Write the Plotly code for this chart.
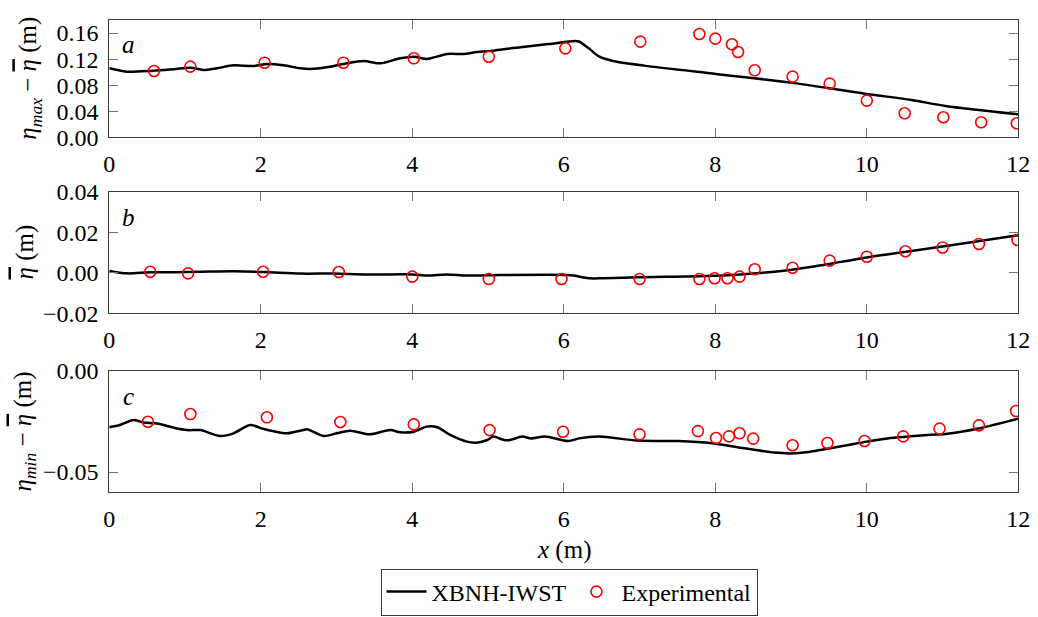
import plotly.graph_objects as go

# ---- XBNH-IWST model profiles ----
# (a) eta_max - eta_bar
x_model_a = [0.0, 0.23, 0.58, 0.85, 1.07, 1.24, 1.42, 1.64, 1.90, 2.08, 2.30, 2.52, 2.65,
             2.87, 3.09, 3.36, 3.58, 3.84, 4.02, 4.19, 4.46, 4.68, 4.85, 5.07, 5.30, 5.43,
             5.80, 6.15, 6.20, 6.33, 6.47, 6.65, 7.06, 8.01, 9.00, 10.0, 10.59, 11.04, 12.0]
y_model_a = [0.1059, 0.1007, 0.1023, 0.1043, 0.1069, 0.1033, 0.1059, 0.1105, 0.1094, 0.1125,
             0.1105, 0.1059, 0.1048, 0.1074, 0.1125, 0.1171, 0.1135, 0.1212, 0.1237, 0.1202,
             0.1278, 0.1278, 0.1309, 0.1330, 0.1365, 0.1381, 0.1430, 0.1478, 0.1470, 0.1365,
             0.1237, 0.1171, 0.1100, 0.0972, 0.0839, 0.0665, 0.0573, 0.0481, 0.0353]

# (b) eta_bar
x_model_b = [0.0, 0.23, 0.54, 1.2, 1.64, 2.04, 2.52, 2.96, 3.4, 4.0, 4.2, 4.46, 4.72, 5.16,
             6.06, 6.13, 6.33, 6.52, 6.97, 7.87, 8.33, 8.78, 9.23, 9.68, 10.14, 10.59, 11.04,
             11.49, 12.0]
y_model_b = [0.0009, -0.0003, 0.0002, 0.0005, 0.0007, 0.0004, -0.0004, -0.0004, -0.0009,
             -0.0008, -0.0014, -0.0008, -0.0014, -0.0011, -0.0011, -0.0014, -0.0027, -0.0027,
             -0.0022, -0.0016, -0.0008, 0.0005, 0.0027, 0.0055, 0.0084, 0.0107, 0.0132,
             0.0157, 0.0185]

# (c) eta_min - eta_bar
x_model_c = [0.0, 0.14, 0.32, 0.45, 0.63, 0.85, 1.02, 1.2, 1.46, 1.64, 1.86, 2.04, 2.17,
             2.34, 2.56, 2.61, 2.83, 3.0, 3.18, 3.44, 3.71, 3.84, 4.02, 4.19, 4.33, 4.5, 4.72,
             4.85, 4.99, 5.07, 5.21, 5.29, 5.45, 5.57, 5.75, 6.06, 6.2, 6.47, 6.97, 7.51,
             7.96, 8.33, 8.78, 9.0, 9.23, 9.68, 10.0, 10.27, 10.81, 11.04, 11.49, 12.0]
y_model_c = [-0.0279, -0.0268, -0.0243, -0.0256, -0.0260, -0.0281, -0.0293, -0.0293, -0.0322,
             -0.0309, -0.0268, -0.0288, -0.0299, -0.0309, -0.0293, -0.0289, -0.0322, -0.0309,
             -0.0296, -0.0314, -0.0293, -0.0304, -0.0301, -0.0276, -0.0279, -0.0317, -0.0350,
             -0.0355, -0.0342, -0.0325, -0.0342, -0.0342, -0.0325, -0.0334, -0.0325, -0.0347,
             -0.0334, -0.0325, -0.0345, -0.0347, -0.0358, -0.0380, -0.0404, -0.0408, -0.0401,
             -0.0372, -0.0350, -0.0334, -0.0317, -0.0312, -0.0284, -0.0237]

# ---- Experimental gauges ----
x_exp_a = [0.59, 1.07, 2.05, 3.09, 4.02, 5.01, 6.02, 7.01, 7.79, 8.0, 8.22, 8.30, 8.52,
           9.02, 9.51, 10.0, 10.50, 11.01, 11.51, 11.98]
y_exp_a = [0.1018, 0.1084, 0.1145, 0.1145, 0.1212, 0.1237, 0.1365, 0.1468, 0.1585, 0.1514,
           0.1427, 0.1309, 0.1028, 0.0931, 0.0823, 0.0563, 0.0368, 0.0307, 0.0230, 0.0215]

x_exp_b = [0.54, 1.04, 2.03, 3.03, 4.0, 5.01, 5.97, 7.0, 7.79, 7.99, 8.16, 8.32, 8.52,
           9.02, 9.51, 10.0, 10.51, 11.0, 11.48, 11.99]
y_exp_b = [0.0005, -0.0003, 0.0005, 0.0004, -0.0019, -0.0031, -0.0031, -0.0031, -0.0031,
           -0.0027, -0.0027, -0.0019, 0.0017, 0.0025, 0.0060, 0.0079, 0.0106, 0.0125,
           0.0142, 0.0162]

x_exp_c = [0.51, 1.07, 2.08, 3.05, 4.02, 5.02, 5.99, 7.0, 7.77, 8.01, 8.18, 8.32, 8.5,
           9.02, 9.48, 9.97, 10.48, 10.96, 11.48, 11.97]
y_exp_c = [-0.0252, -0.0214, -0.0230, -0.0253, -0.0265, -0.0293, -0.0301, -0.0314, -0.0298,
           -0.0332, -0.0324, -0.0309, -0.0335, -0.0368, -0.0357, -0.0347, -0.0324, -0.0286,
           -0.0270, -0.0199]

x_ticks = [0, 2, 4, 6, 8, 10, 12]
y_ticks_a = [0.0, 0.04, 0.08, 0.12, 0.16]
y_ticks_b = [-0.02, 0.0, 0.02, 0.04]
y_ticks_c = [-0.05, 0.0]

W, H = 1038, 617
FONT = "Liberation Serif, Times New Roman, serif"
AX_COLOR = "#3a3a3a"
TICK_SIZE = 24
TITLE_SIZE = 25
LEGEND_SIZE = 24

ETABAR = '<span style="text-decoration:overline"><i>η</i></span>'

panels = [
    dict(xm=x_model_a, ym=y_model_a, xe=x_exp_a, ye=y_exp_a, yr=[0, 0.18], yt=y_ticks_a,
         dom=[1 - 137.3 / H, 1 - 20 / H], label="a",
         title="<i>η</i><sub><i>max</i></sub> − " + ETABAR + " (m)", tx=30),
    dict(xm=x_model_b, ym=y_model_b, xe=x_exp_b, ye=y_exp_b, yr=[-0.02, 0.04], yt=y_ticks_b,
         dom=[1 - 313.3 / H, 1 - 191.7 / H], label="b",
         title=ETABAR + " (m)", tx=24),
    dict(xm=x_model_c, ym=y_model_c, xe=x_exp_c, ye=y_exp_c, yr=[-0.06, 0.0], yt=y_ticks_c,
         dom=[1 - 492.3 / H, 1 - 370.7 / H], label="c",
         title="<i>η</i><sub><i>min</i></sub> − " + ETABAR + " (m)", tx=24),
]

fig = go.Figure()
layout = dict(
    width=W, height=H,
    margin=dict(l=0, r=0, t=0, b=0, pad=0, autoexpand=False),
    paper_bgcolor="white", plot_bgcolor="white",
    font=dict(family=FONT, size=TICK_SIZE, color="black"),
    showlegend=True,
    legend=dict(orientation="h", x=569 / W, xanchor="center", y=1 - 592 / H, yanchor="middle",
                bordercolor=AX_COLOR, borderwidth=1, bgcolor="white",
                font=dict(family=FONT, size=LEGEND_SIZE), itemwidth=40, tracegroupgap=0),
)
annotations = []

for i, p in enumerate(panels):
    n = "" if i == 0 else str(i + 1)
    xa, ya = "x" + n, "y" + n
    fig.add_trace(go.Scatter(
        x=p["xm"], y=p["ym"], xaxis=xa, yaxis=ya, mode="lines",
        line=dict(color="black", width=2.5, shape="spline", smoothing=0.8),
        name="XBNH-IWST", showlegend=(i == 0)))
    fig.add_trace(go.Scatter(
        x=p["xe"], y=p["ye"], xaxis=xa, yaxis=ya, mode="markers",
        marker=dict(symbol="circle-open", size=11, color="red", line=dict(width=1.6, color="red")),
        name="Experimental", showlegend=(i == 0)))

    layout["xaxis" + n] = dict(
        domain=[109.3 / W, 1018.3 / W], range=[0, 12], anchor=ya, automargin=False,
        tickvals=x_ticks, ticks="inside", ticklen=9, tickcolor="#777",
        showline=True, linecolor=AX_COLOR, linewidth=1, mirror="allticks",
        showgrid=False, zeroline=False, ticklabelstandoff=5,
        tickfont=dict(family=FONT, size=TICK_SIZE))
    layout["yaxis" + n] = dict(
        domain=p["dom"], range=p["yr"], anchor=xa, automargin=False,
        tickvals=p["yt"], tickformat=".2f", ticks="inside", ticklen=9, tickcolor="#777",
        showline=True, linecolor=AX_COLOR, linewidth=1, mirror="allticks",
        showgrid=False, zeroline=False, ticklabelstandoff=5,
        tickfont=dict(family=FONT, size=TICK_SIZE))

    annotations.append(dict(
        text="<i>%s</i>" % p["label"], xref="x%s domain" % n, yref="y%s domain" % n,
        x=0.021, y=0.79, xanchor="center", yanchor="middle", showarrow=False,
        font=dict(family=FONT, size=TITLE_SIZE)))
    annotations.append(dict(
        text=p["title"], xref="paper", yref="paper", x=p["tx"] / W,
        y=(p["dom"][0] + p["dom"][1]) / 2, xanchor="center", yanchor="middle",
        textangle=-90, showarrow=False, font=dict(family=FONT, size=TITLE_SIZE)))

annotations.append(dict(
    text="<i>x</i> (m)", xref="paper", yref="paper", x=563.8 / W, y=1 - 550 / H,
    xanchor="center", yanchor="middle", showarrow=False, font=dict(family=FONT, size=TITLE_SIZE)))

layout["annotations"] = annotations
fig.update_layout(**layout)
fig.write_html("out.html")
